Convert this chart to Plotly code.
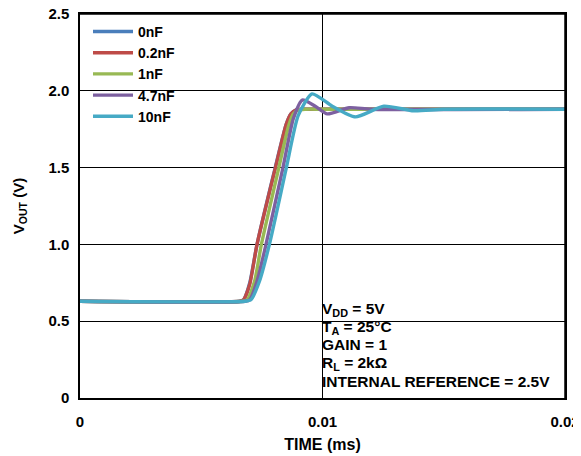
import plotly.graph_objects as go

# ---- data ----
series_names = ["0nF", "0.2nF", "1nF", "4.7nF", "10nF"]
series_colors = ["#4a7ebb", "#be4b48", "#98b954", "#7d60a0", "#46aac5"]

t_0nF = [0, 0.0066, 0.00675, 0.0070, 0.0073, 0.00805, 0.0085, 0.0087, 0.0089, 0.0092, 0.0100, 0.0200]
v_0nF = [0.63, 0.63, 0.64, 0.75, 1.00, 1.50, 1.78, 1.85, 1.875, 1.88, 1.88, 1.88]

t_02nF = [0, 0.0066, 0.00675, 0.0070, 0.0073, 0.00806, 0.0085, 0.0087, 0.0089, 0.0092, 0.0100, 0.0200]
v_02nF = [0.63, 0.63, 0.64, 0.74, 1.00, 1.50, 1.78, 1.85, 1.875, 1.88, 1.88, 1.88]

t_1nF = [0, 0.0067, 0.0069, 0.0072, 0.00748, 0.0082, 0.0086, 0.0088, 0.0090, 0.0093, 0.0100, 0.0200]
v_1nF = [0.63, 0.63, 0.64, 0.76, 1.00, 1.50, 1.77, 1.85, 1.875, 1.88, 1.88, 1.88]

t_47nF = [0, 0.0068, 0.0070, 0.0073, 0.00767, 0.00837, 0.0088, 0.00917, 0.0097, 0.0102, 0.0111, 0.0120, 0.0200]
v_47nF = [0.63, 0.63, 0.64, 0.76, 1.00, 1.50, 1.82, 1.94, 1.90, 1.85, 1.89, 1.88, 1.88]

t_10nF = [0, 0.0068, 0.00705, 0.0074, 0.00781, 0.00851, 0.0090, 0.00957, 0.0104, 0.01136, 0.01253, 0.01376, 0.0150, 0.0200]
v_10nF = [0.63, 0.63, 0.64, 0.76, 1.00, 1.50, 1.84, 1.98, 1.90, 1.83, 1.90, 1.87, 1.88, 1.88]

series_t = [t_0nF, t_02nF, t_1nF, t_47nF, t_10nF]
series_v = [v_0nF, v_02nF, v_1nF, v_47nF, v_10nF]

x_tickvals = [0, 0.01, 0.02]
x_ticktext = ["0", "0.01", "0.02"]
y_tickvals = [0, 0.5, 1.0, 1.5, 2.0, 2.5]
y_ticktext = ["0", "0.5", "1.0", "1.5", "2.0", "2.5"]

note_lines = ["V<sub>DD</sub> = 5V", "T<sub>A</sub> = 25°C", "GAIN = 1",
              "R<sub>L</sub> = 2kΩ", "INTERNAL REFERENCE = 2.5V"]

FONT = "Liberation Sans, Arial, Helvetica, sans-serif"

# page is offset by the 8px body margin: plot area page (80..565, 14..398)
M_L, M_R, M_T, M_B = 72, 24, 6, 66
PLOT_H = 456 - M_T - M_B
PAGE_BOTTOM = 456 - M_B + 8

# ---- figure ----
fig = go.Figure()
for name, color, t, v in zip(series_names, series_colors, series_t, series_v):
    fig.add_trace(go.Scatter(
        x=t, y=v, name=name, mode="lines",
        line=dict(color=color, width=3.4, shape="spline", smoothing=0.6),
    ))

fig.update_layout(
    width=581, height=456,
    margin=dict(l=M_L, r=M_R, t=M_T, b=M_B, autoexpand=False),
    paper_bgcolor="white", plot_bgcolor="white",
    font=dict(family=FONT, size=15, color="black", weight="bold"),
    showlegend=True,
    legend=dict(
        x=0.0165, y=0.995, xanchor="left", yanchor="top",
        bgcolor="rgba(0,0,0,0)", borderwidth=0,
        font=dict(family=FONT, size=14, weight="bold"),
        itemwidth=40,
    ),
)

fig.update_xaxes(
    range=[0, 0.02], tickvals=x_tickvals, ticktext=x_ticktext,
    showgrid=True, gridcolor="black", gridwidth=1,
    showline=True, linecolor="black", linewidth=1.5, mirror=True,
    zeroline=False, ticks="", ticklabelstandoff=9, ticklabeloverflow="allow",
    automargin=False,
    tickfont=dict(size=15, weight="bold"),
    title=dict(text="TIME (ms)", standoff=10, font=dict(size=16, weight="bold")),
)
fig.update_yaxes(
    range=[0, 2.5], tickvals=y_tickvals, ticktext=y_ticktext,
    showgrid=True, gridcolor="black", gridwidth=1,
    showline=True, linecolor="black", linewidth=1.5, mirror=True,
    zeroline=False, ticks="", ticklabelstandoff=6, ticklabeloverflow="allow",
    automargin=False,
    tickfont=dict(size=15, weight="bold"),
    title=dict(text="V<sub>OUT</sub> (V)", standoff=20, font=dict(size=15, weight="bold")),
)

# white boxes behind legend and conditions note (hide gridlines there)
fig.add_shape(type="rect", xref="paper", yref="paper",
              x0=0.0165, x1=0.233, y0=0.67, y1=0.995,
              fillcolor="white", line=dict(width=0), layer="between")
fig.add_shape(type="rect", xref="paper", yref="paper",
              x0=0.478, x1=0.997, y0=0.008, y1=0.28,
              fillcolor="white", line=dict(width=0), layer="between")
# plot frame (top and right edges)
fig.add_shape(type="line", xref="paper", yref="paper", x0=0, x1=1, y0=1, y1=1,
              line=dict(color="black", width=1.5), layer="above")
fig.add_shape(type="line", xref="paper", yref="paper", x0=1, x1=1, y0=0, y1=1,
              line=dict(color="black", width=1.5), layer="above")

# conditions note, one annotation per line
baselines_page = [314, 331.7, 350, 368.3, 387.3]
for line, base in zip(note_lines, baselines_page):
    fig.add_annotation(
        xref="paper", yref="paper", x=0.496, y=(PAGE_BOTTOM - (base - 15)) / PLOT_H,
        xanchor="left", yanchor="top",
        text=line, showarrow=False, align="left", borderpad=0,
        font=dict(family=FONT, size=15.5, weight="bold", color="black"),
    )

fig.write_html("out.html")
